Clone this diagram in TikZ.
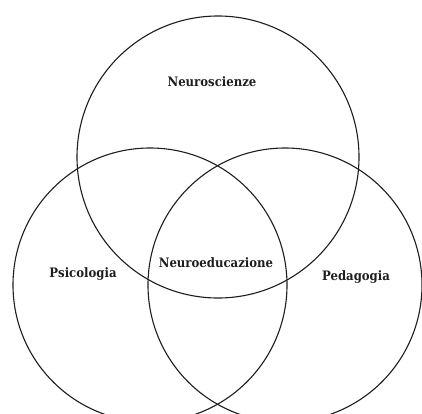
\documentclass[tikz,border=0pt]{standalone}
\usepackage{fontspec}
\setmainfont[FakeStretch=0.9]{DejaVu Serif}
\usepackage{tikz}
\usepackage{xcolor}
\usetikzlibrary{positioning}
\definecolor{vennline}{RGB}{30, 30, 30}
\tikzstyle{venncircle} = [circle, draw=vennline, line width=1.1pt, inner sep=0pt]
\tikzstyle{areaname} = [font=\bfseries\fontsize{13}{15}\selectfont, text=vennline]

\begin{document}
\begin{tikzpicture}[x=1pt, y=-1pt]
        \useasboundingbox[fill=white] (0,0) rectangle (422,413);
        \begin{scope}
        \clip (0,0) rectangle (422,413);
        % Circles
        \node[venncircle, minimum size=282pt] (neuro) at (218,157) {};
        \node[venncircle, minimum size=274pt] (psico) at (150,285) {};
        \node[venncircle, minimum size=274pt] (peda) at (285,285) {};
        \end{scope}

        % Labels
        \node[areaname] (neurolabel) at (212,82) {Neuroscienze};
        \node[areaname] (psicolabel) at (83,274) {Psicologia};
        \node[areaname] (pedalabel) at (356,277) {Pedagogia};
        \node[areaname] (edulabel) at (216,263) {Neuroeducazione};
    \end{tikzpicture}
\end{document}
